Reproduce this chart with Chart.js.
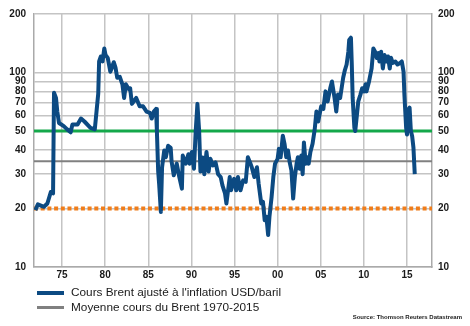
<!DOCTYPE html>
<html><head><meta charset="utf-8">
<script src="https://cdn.jsdelivr.net/npm/chart.js@4"></script>
<style>
html,body{margin:0;padding:0;background:#fff;}
#wrap{position:relative;width:470px;height:326px;overflow:hidden;}
#c{position:absolute;left:0;top:0;}
.lg{position:absolute;left:37px;font-family:"Liberation Sans",Arial,sans-serif;font-size:11.8px;color:#1a1a1a;white-space:nowrap;line-height:14px;}
.lg span.s{display:inline-block;width:27px;vertical-align:middle;margin-right:7px;}
#src{position:absolute;right:8px;top:314px;font-family:"Liberation Sans",Arial,sans-serif;font-size:6px;font-weight:bold;color:#1a1a1a;}
</style></head>
<body>
<div id="wrap">
<canvas id="c" width="470" height="326"></canvas>
<div class="lg" style="top:285px"><span class="s" style="height:4px;background:#0c4a82"></span>Cours Brent ajusté à l'inflation USD/baril</div>
<div class="lg" style="top:300px"><span class="s" style="height:3px;background:#808080"></span>Moyenne cours du Brent 1970-2015</div>
<div id="src">Source: Thomson Reuters Datastream</div>
</div>
<script>
const years = [1971.9,1972.2,1972.9,1973.3,1973.7,1973.96,1974.07,1974.3,1974.45,1974.65,1975.2,1975.6,1976.0,1976.2,1976.8,1977.2,1977.6,1978.3,1978.8,1979.0,1979.2,1979.3,1979.5,1979.7,1979.9,1980.05,1980.3,1980.6,1981.0,1981.2,1981.4,1981.7,1982.0,1982.2,1982.4,1982.75,1982.9,1983.1,1983.3,1983.6,1984.0,1984.4,1984.8,1985.2,1985.4,1985.65,1985.9,1986.0,1986.15,1986.26,1986.46,1986.6,1986.85,1987.04,1987.3,1987.6,1987.7,1987.96,1988.3,1988.6,1988.9,1989.0,1989.35,1989.65,1989.8,1990.05,1990.3,1990.5,1990.7,1990.9,1991.05,1991.3,1991.5,1991.75,1992.0,1992.2,1992.5,1992.8,1993.1,1993.4,1993.6,1993.9,1994.06,1994.45,1994.6,1994.95,1995.2,1995.4,1995.7,1996.0,1996.3,1996.55,1996.8,1997.0,1997.3,1997.6,1997.8,1998.1,1998.3,1998.5,1998.7,1998.9,1999.05,1999.3,1999.5,1999.7,2000.0,2000.15,2000.35,2000.6,2000.8,2001.0,2001.2,2001.4,2001.6,2001.8,2002.0,2002.2,2002.35,2002.55,2002.75,2002.9,2003.05,2003.25,2003.4,2003.6,2003.8,2004.05,2004.3,2004.5,2004.7,2004.9,2005.05,2005.3,2005.55,2005.8,2006.1,2006.3,2006.6,2006.8,2007.0,2007.25,2007.6,2007.8,2008.0,2008.2,2008.3,2008.5,2008.6,2008.7,2008.9,2009.0,2009.2,2009.35,2009.6,2009.8,2010.0,2010.2,2010.3,2010.6,2010.9,2011.1,2011.3,2011.5,2011.7,2011.8,2012.0,2012.2,2012.4,2012.6,2012.8,2013.0,2013.15,2013.35,2013.65,2013.9,2014.2,2014.4,2014.6,2014.7,2014.9,2015.0,2015.2,2015.3,2015.45,2015.6,2015.75,2015.9];
const prices = [19.6,21.0,20.4,21.2,24.3,23.9,78.7,74,63,55,53,51,49.3,54,54,58,56,52,51,63,78,114,121,114,133,123,119,101,113,106,94,95,87,74,87,82,83,69,71,74,67,67,63,62,58,63,65,50,31,26.8,19.2,32.6,39.7,36.7,42,41,35,29.6,34,29,25.3,37.4,34,38,34,39,32,50,69,50,31,36.6,30,39,31,36,33.3,34.5,30,29,26.3,23.9,21.2,29,24.8,28.4,24.8,29,24.8,27.9,27.4,36.7,34.5,32.6,29,32.6,26.8,21.2,21.6,17.4,18.1,14.6,18.1,22.9,29,34,36,40.5,36.7,47.3,43,36.7,39.7,34.5,31.4,22.5,29,34,36.7,32,37.4,30,43.7,34,36.7,34,39,43,51,63,56,62,67,65,80,71,83,90,74,63,77,74,94,103,110,128,147,151,110,74,52,50,61,71,77,83,80,87,80,90,105,133,128,119,126,114,128,105,123,114,121,105,119,112,114,110,112,114,101,77,52,48,65,66,50,47,41,30];
const meanLevel = 35;
const upperLevel = 50;
const lowerLevel = 20;
const yTicks = [10,20,30,40,50,60,70,80,90,100,200];
const xTicks = [1975,1980,1985,1990,1995,2000,2005,2010,2015];
const xTickLabels = ['75','80','85','90','95','00','05','10','15'];
const xMin = 1971.75, xMax = 2017.9;

const tickFont = {family:'"Liberation Sans", Arial, sans-serif', size:10, weight:'bold'};
const gridCol = '#c4c4c4';
const flat = v => [{x:xMin,y:v},{x:xMax,y:v}];

new Chart(document.getElementById('c'), {
  type:'line',
  data:{datasets:[
    {label:"Cours Brent ajusté à l'inflation USD/baril", data:years.map((x,i)=>({x:x,y:prices[i]})), borderColor:'#0c4a82', borderWidth:4, pointRadius:0, tension:0, borderJoinStyle:'round', order:0},
    {label:'50', data:flat(upperLevel), borderColor:'#14a84a', borderWidth:3, pointRadius:0, order:1},
    {label:'Moyenne cours du Brent 1970-2015', data:flat(meanLevel), borderColor:'#808080', borderWidth:2, pointRadius:0, order:2},
    {label:'20', data:flat(lowerLevel), borderColor:'#f07d1a', borderWidth:4, borderDash:[4,2.7], borderCapStyle:'butt', pointRadius:0, order:3}
  ]},
  options:{
    responsive:false, animation:false, parsing:true,
    layout:{padding:{top:12,left:0,right:0,bottom:0}},
    plugins:{legend:{display:false}, tooltip:{enabled:false}},
    scales:{
      x:{type:'linear', min:xMin, max:xMax,
        afterBuildTicks:s=>{s.ticks = xTicks.map(v=>({value:v}));},
        afterFit:s=>{s.height = 59;},
        ticks:{font:tickFont, color:'#1a1a1a', maxRotation:0, autoSkip:false, padding:2,
          callback:(v)=>{const i=xTicks.indexOf(v); return i>=0?xTickLabels[i]:'';}},
        grid:{color:gridCol, lineWidth:1.5, drawTicks:false},
        border:{display:true, color:'#aaaaaa', width:1.5}
      },
      y:{type:'logarithmic', position:'left', min:10, max:200,
        afterBuildTicks:s=>{s.ticks = yTicks.map(v=>({value:v}));},
        afterFit:s=>{s.width = 34;},
        ticks:{font:tickFont, color:'#1a1a1a', padding:8, autoSkip:false, callback:v=>String(v)},
        grid:{color:gridCol, lineWidth:1.5, drawTicks:false},
        border:{display:true, color:'#aaaaaa', width:1.5}
      },
      y2:{type:'logarithmic', position:'right', min:10, max:200,
        afterBuildTicks:s=>{s.ticks = yTicks.map(v=>({value:v}));},
        afterFit:s=>{s.width = 38;},
        ticks:{font:tickFont, color:'#1a1a1a', padding:6, autoSkip:false, callback:v=>String(v)},
        grid:{display:false, drawTicks:false},
        border:{display:true, color:'#aaaaaa', width:1.5}
      }
    }
  }
});
</script>
</body></html>
